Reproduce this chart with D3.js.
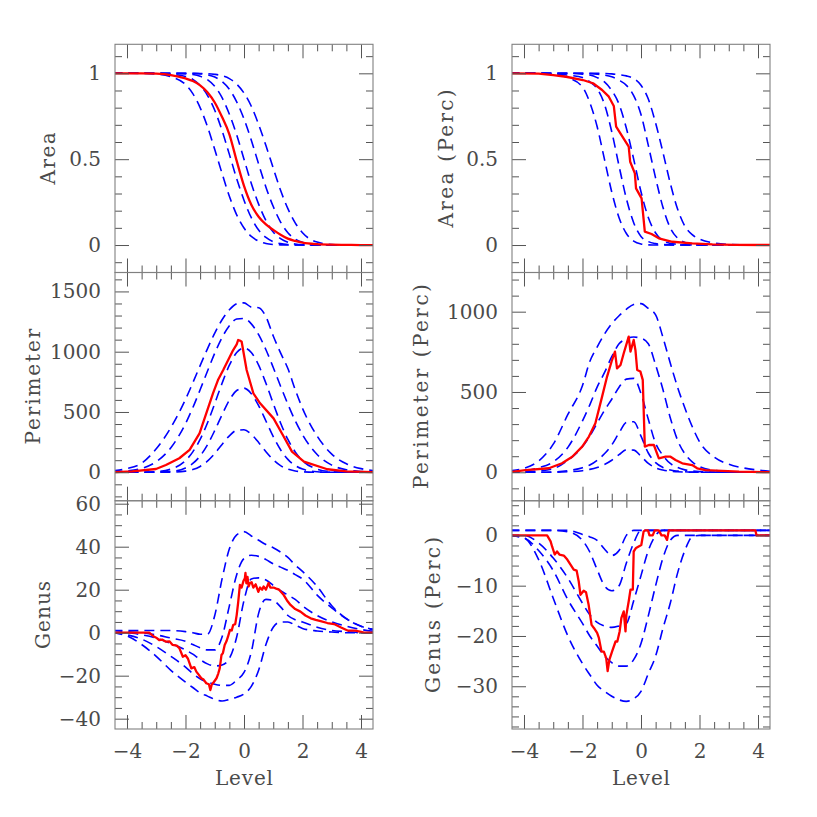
<!DOCTYPE html>
<html>
<head>
<meta charset="utf-8">
<script src="https://cdn.jsdelivr.net/npm/d3@7"></script>
<style>
  body { margin: 0; background: #fff; }
  text { font-family: 'DejaVu Serif', serif; font-size: 20px; fill: #4a4a4a; }
</style>
</head>
<body>
<script>
// level grid shared by the dashed (blue) curves
const levels = [-4.5, -4, -3.5, -3, -2.5, -2, -1.75, -1.5, -1.25, -1, -0.75, -0.5, -0.25, 0,
  0.25, 0.5, 0.75, 1, 1.25, 1.5, 1.75, 2, 2.5, 3, 3.5, 4, 4.5]

// Area
const areaBands = [
  [1, 1, 0.999, 0.996, 0.98, 0.935, 0.882, 0.8, 0.69, 0.556, 0.417, 0.284, 0.176, 0.099, 0.05, 0.023, 0.009, 0.003, 0.001, 0, 0, 0, 0, 0, 0, 0, 0],
  [1, 1, 1, 0.999, 0.995, 0.982, 0.965, 0.93, 0.872, 0.785, 0.666, 0.528, 0.386, 0.261, 0.159, 0.087, 0.044, 0.019, 0.008, 0.003, 0.001, 0, 0, 0, 0, 0, 0],
  [1, 1, 1, 1, 0.999, 0.997, 0.993, 0.983, 0.963, 0.924, 0.858, 0.762, 0.641, 0.5, 0.359, 0.238, 0.142, 0.076, 0.037, 0.016, 0.006, 0.002, 0, 0, 0, 0, 0],
  [1, 1, 1, 1, 1, 1, 0.999, 0.997, 0.991, 0.978, 0.952, 0.907, 0.834, 0.734, 0.61, 0.472, 0.337, 0.224, 0.134, 0.072, 0.035, 0.016, 0.002, 0, 0, 0, 0],
  [1, 1, 1, 1, 1, 1, 1, 0.999, 0.998, 0.994, 0.986, 0.969, 0.937, 0.885, 0.808, 0.702, 0.579, 0.448, 0.319, 0.212, 0.129, 0.071, 0.017, 0.003, 0, 0, 0]
]
const areaRed = [1, 1, 1, 0.998, 0.99, 0.97, 0.955, 0.93, 0.89, 0.83, 0.745, 0.645, 0.49, 0.345, 0.235, 0.165, 0.12, 0.088, 0.06, 0.037, 0.024, 0.014, 0.005, 0.002, 0.001, 0, 0]

// Area (Perc)
const areaPercBands = [
  [1, 1, 1, 0.995, 0.975, 0.92, 0.83, 0.69, 0.5, 0.309, 0.159, 0.067, 0.023, 0.006, 0.001, 0, 0, 0, 0, 0, 0, 0, 0, 0, 0, 0, 0],
  [1, 1, 1, 0.998, 0.99, 0.975, 0.95, 0.91, 0.82, 0.66, 0.46, 0.27, 0.13, 0.05, 0.02, 0.008, 0.003, 0.001, 0, 0, 0, 0, 0, 0, 0, 0, 0],
  [1, 1, 1, 1, 1, 0.995, 0.99, 0.975, 0.95, 0.9, 0.82, 0.68, 0.5, 0.31, 0.16, 0.07, 0.025, 0.01, 0.004, 0.001, 0, 0, 0, 0, 0, 0, 0],
  [1, 1, 1, 1, 1, 1, 0.998, 0.995, 0.99, 0.98, 0.96, 0.93, 0.87, 0.76, 0.58, 0.39, 0.22, 0.1, 0.04, 0.015, 0.006, 0.002, 0, 0, 0, 0, 0],
  [1, 1, 1, 1, 1, 1, 1, 1, 0.999, 0.997, 0.992, 0.985, 0.97, 0.93, 0.85, 0.71, 0.54, 0.36, 0.21, 0.11, 0.06, 0.035, 0.012, 0.003, 0.001, 0, 0]
]
const areaPercRed = [[-4.5, 1], [-3.5, 0.998], [-3, 0.99], [-2.56, 0.98], [-1.99, 0.961], [-1.64, 0.942], [-1.33, 0.903],
  [-1.1, 0.864], [-0.93, 0.81], [-0.85, 0.69], [-0.42, 0.573], [-0.37, 0.485], [-0.21, 0.417], [-0.17, 0.33],
  [0.02, 0.272], [0.13, 0.078], [0.36, 0.064], [0.61, 0.039], [1.07, 0.019], [1.75, 0.01], [2.44, 0.004], [3.2, 0.001], [4.5, 0]]

// Perimeter
const perimBands = [
  [12, 30, 75, 195, 371, 605, 742, 884, 1024, 1154, 1265, 1348, 1397, 1405, 1370, 1365, 1290, 1130, 990, 860, 686, 530, 300, 150, 70, 30, 12],
  [3, 10, 32, 87, 203, 403, 536, 684, 838, 988, 1118, 1216, 1271, 1276, 1231, 1141, 1016, 869, 714, 564, 428, 312, 147, 59, 20, 6, 2],
  [0, 1, 2, 5, 26, 96, 169, 272, 409, 570, 738, 888, 993, 1030, 993, 888, 738, 570, 409, 272, 169, 96, 26, 5, 1, 0, 0],
  [0, 0, 0, 1, 6, 36, 73, 135, 227, 346, 477, 598, 678, 698, 652, 553, 425, 296, 187, 107, 56, 26, 4, 0, 0, 0, 0],
  [0, 0, 0, 0, 1, 9, 22, 48, 92, 155, 231, 302, 348, 352, 314, 247, 170, 104, 55, 26, 11, 4, 0, 0, 0, 0, 0]
]
const perimRed = [[-4.5, 0], [-3.82, 8], [-3.01, 27], [-2.67, 60], [-2.21, 116], [-1.86, 185], [-1.52, 323], [-1.29, 489],
  [-1.06, 655], [-0.89, 765], [-0.71, 848], [-0.54, 931], [-0.37, 1014], [-0.25, 1060], [-0.2, 1097], [-0.12, 1090],
  [-0.08, 1083], [0.09, 848], [0.32, 655], [0.55, 572], [1.01, 447], [1.36, 295], [1.64, 171], [2.05, 88], [2.85, 25], [3.5, 8], [4.5, 0]]

// Perimeter (Perc)
const perimPercBands = [
  [10, 25, 70, 175, 360, 540, 690, 780, 860, 925, 975, 1015, 1045, 1050, 1020, 980, 840, 680, 530, 400, 285, 190, 95, 50, 27, 14, 5],
  [3, 10, 28, 65, 155, 320, 420, 530, 620, 720, 800, 830, 842, 835, 800, 668, 515, 340, 200, 115, 65, 35, 12, 4, 2, 1, 0],
  [0, 2, 8, 22, 75, 160, 225, 305, 385, 455, 530, 580, 585, 490, 330, 180, 105, 55, 30, 15, 8, 4, 1, 0, 0, 0, 0],
  [0, 0, 0, 2, 10, 28, 45, 75, 115, 170, 245, 310, 315, 225, 120, 60, 30, 14, 7, 3, 1, 0, 0, 0, 0, 0, 0],
  [0, 0, 0, 0, 3, 10, 18, 30, 48, 75, 110, 140, 138, 100, 55, 28, 14, 6, 3, 1, 0, 0, 0, 0, 0, 0, 0]
]
const perimPercRed = [[-4.5, 0], [-3.95, 14], [-3.15, 25], [-2.7, 56], [-2.35, 97], [-2.01, 160], [-1.78, 222], [-1.56, 305],
  [-1.33, 471], [-1.16, 596], [-0.99, 699], [-0.89, 751], [-0.82, 647], [-0.7, 668], [-0.59, 741], [-0.42, 845],
  [-0.36, 751], [-0.25, 824], [-0.19, 760], [-0.13, 637], [-0.02, 627], [0.06, 575], [0.13, 160], [0.27, 170],
  [0.44, 170], [0.61, 87], [0.84, 97], [1.01, 97], [1.18, 77], [1.41, 56], [1.75, 45], [1.92, 25], [2.2, 14], [3.35, 4], [4.5, 0]]

// Genus
const genusBands = [
  [1, 1, 1, 1, 1, 0.5, 0, -0.7, -0.7, 8, 25, 39, 45.5, 47, 45, 43, 41, 39.5, 37.5, 35, 31.5, 28.5, 21.5, 12.5, 6.5, 3, 1.5],
  [1, 0.5, 0, -1, -2.5, -4, -5.5, -7, -8, -8, -2, 12.5, 27, 34.5, 36, 35.5, 34, 32, 30.5, 29, 27, 25, 17.5, 11.5, 6.5, 3, 1],
  [0, 0, -1, -2.5, -5, -8, -10, -12.5, -14.5, -15.5, -15, -12, -2, 15, 25, 25.5, 24.5, 22, 19.5, 17.5, 15.5, 12.5, 8, 5, 3, 1.5, 0.5],
  [0, -1, -3, -6.5, -11, -16, -19, -21.5, -23, -24, -24.5, -24.5, -22, -18.5, -9, 9, 15.5, 15, 12, 8, 6, 5, 2.5, 1, 0.5, 0, 0],
  [0, -1.5, -5.5, -11, -17.5, -23, -25.5, -28, -29.5, -31, -31.8, -31, -30, -28.5, -25, -17.5, -5.5, 2.5, 5, 5, 3.5, 2, 0.8, 0.3, 0, 0, 0]
]
const genusRed = [[-4.5, 0], [-3.3, 0], [-3.24, 0], [-3.07, -1.9], [-2.98, -2.5], [-2.9, -3.4], [-2.8, -3.2], [-2.67, -4.2],
  [-2.55, -4], [-2.44, -5.7], [-2.3, -6], [-2.21, -7.2], [-2.09, -11.2], [-2.0, -10.5], [-1.92, -12], [-1.8, -16.6],
  [-1.7, -16], [-1.63, -18.1], [-1.55, -19.5], [-1.46, -21.2], [-1.38, -21.8], [-1.29, -23.5], [-1.2, -24], [-1.15, -26.7],
  [-1.1, -24], [-1.06, -23.5], [-0.94, -21.2], [-0.88, -19], [-0.83, -16.6], [-0.77, -10.4], [-0.72, -9.5], [-0.66, -5.7],
  [-0.6, -4], [-0.55, -2], [-0.48, 1.3], [-0.42, 1], [-0.37, 3.6], [-0.3, 4], [-0.25, 8.2], [-0.2, 14], [-0.14, 22.2],
  [-0.08, 21], [-0.02, 24], [0.03, 25.3], [0.05, 27.8], [0.08, 23], [0.12, 26], [0.16, 21.5], [0.2, 23], [0.26, 23.5],
  [0.32, 21], [0.4, 22.5], [0.49, 19], [0.55, 21], [0.62, 20], [0.67, 21.5], [0.75, 20], [0.84, 23.2], [0.9, 21],
  [1.01, 21], [1.1, 20.5], [1.2, 20], [1.36, 17.5], [1.47, 15], [1.59, 12.9], [1.75, 11], [1.93, 9.8], [2.1, 8],
  [2.28, 6.7], [2.45, 6], [2.62, 5.4], [2.85, 4.5], [3.08, 4], [3.3, 2.5], [3.54, 1], [3.8, 1], [4.0, 0.4], [4.1, 0], [4.5, 0]]

// Genus (Perc)
const genusPercBands = [
  [1, 1, 1, 1, 1, 0.2, -0.3, -1, -2.7, -4, -3, 0, 1, 1, 1, 1, 1, 1, 1, 1, 1, 1, 1, 1, 1, 1, 1],
  [1, 1, 1, 1, 0.7, -1, -3.3, -6.8, -10, -11, -10, -5.5, -1.5, 1, 1, 1, 1, 1, 1, 1, 1, 1, 1, 1, 1, 1, 1],
  [0, 0, -1.5, -4.5, -8.5, -13.5, -15.8, -17.3, -18, -18.3, -18, -17.5, -13, -8, -3, 0, 1, 1, 1, 1, 1, 1, 1, 1, 1, 1, 1],
  [0, -0.5, -3, -7, -12.8, -17.5, -20, -22, -24, -25.3, -26, -26, -24.7, -21.5, -16, -10, -4.5, -1, 0, 0, 0, 0, 0, 0, 0, 0, 0],
  [0, -0.5, -4.8, -12.5, -20, -25.5, -27.7, -29.8, -31, -32, -32.7, -33, -32.5, -31, -27.5, -24, -18.5, -13.5, -7.5, -3, -0.3, 0, 0, 0, 0, 0, 0]
]
const genusPercRed = [[-4.5, 0], [-3.21, 0], [-3.09, -1.2], [-3.04, -2.2], [-2.95, -3.8], [-2.87, -3.2], [-2.79, -3.8],
  [-2.64, -4], [-2.52, -4.8], [-2.41, -5.8], [-2.3, -6.8], [-2.2, -7], [-2.13, -9.1], [-2.07, -11.8], [-1.96, -11],
  [-1.88, -11.3], [-1.79, -13.8], [-1.69, -17.8], [-1.61, -18.4], [-1.5, -19.4], [-1.44, -20.4], [-1.35, -23.1],
  [-1.27, -23.1], [-1.19, -24.4], [-1.14, -27], [-1.08, -24.7], [-0.99, -23.1], [-0.87, -21.1], [-0.81, -21.1],
  [-0.73, -19.1], [-0.67, -16.4], [-0.59, -15.1], [-0.53, -19.1], [-0.5, -15.8], [-0.42, -13.1], [-0.36, -10.8],
  [-0.28, -10.8], [-0.25, -3.2], [-0.17, -2.5], [-0.08, -2.2], [0.01, -1.9], [0.09, 0.8], [0.15, 1], [0.24, 1],
  [0.29, 0], [0.4, 0], [0.47, 1], [0.61, 1], [0.7, 0], [0.81, 0], [0.89, -0.9], [0.95, 1], [3.91, 1], [3.95, 0], [4.5, 0]]

const xMajor = [-4, -2, 0, 2, 4]

// layout
const svg = d3.select('body').append('svg').attr('width', 817).attr('height', 817)
const colLeft = [115, 512]
const rowTop = [44.3, 272.5, 500.8]
const panelW = 258, panelH = 228.2
const frameColor = '#808080', tickColor = '#555'
const majorLen = 14, minorLen = 7

const steps = (a, b, s) => d3.range(Math.round((b - a) / s) + 1).map(i => +(a + i * s).toFixed(4))

const panels = [
  { col: 0, row: 0, yDomain: [-0.16, 1.169], major: [0, 0.5, 1], minor: steps(-0.1, 1.1, 0.1),
    label: 'Area', labelLen: 52, labelX: 55, bands: areaBands, red: levels.map((l, i) => [l, areaRed[i]]), smoothRed: true },
  { col: 1, row: 0, yDomain: [-0.16, 1.169], major: [0, 0.5, 1], minor: steps(-0.1, 1.1, 0.1),
    label: 'Area (Perc)', labelLen: 138, labelX: 453, bands: areaPercBands, red: areaPercRed },
  { col: 0, row: 1, yDomain: [-236, 1657], major: [0, 500, 1000, 1500], minor: steps(-200, 1600, 100),
    label: 'Perimeter', labelLen: 116, labelX: 40, bands: perimBands, red: perimRed },
  { col: 1, row: 1, yDomain: [-177, 1244], major: [0, 500, 1000], minor: steps(-100, 1200, 100),
    label: 'Perimeter (Perc)', labelLen: 205, labelX: 428, bands: perimPercBands, red: perimPercRed },
  { col: 0, row: 2, yDomain: [-44.8, 61.35], major: [-40, -20, 0, 20, 40, 60], minor: steps(-40, 60, 5),
    label: 'Genus', labelLen: 68, labelX: 50, bands: genusBands, red: genusRed },
  { col: 1, row: 2, yDomain: [-38.5, 6.88], major: [-30, -20, -10, 0], minor: steps(-38, 6, 2),
    label: 'Genus (Perc)', labelLen: 156, labelX: 440, bands: genusPercBands, red: genusPercRed }
]

const x = d3.scaleLinear().domain([-4.41, 4.41]).range([0, panelW])
const xMinor = steps(-4, 4, 0.5).filter(v => !xMajor.includes(v))
const fmt = d3.format('~g')

function tickSet(g, axis, values, len, labels, pad) {
  axis.tickValues(values).tickSize(-len).tickSizeOuter(0)
  if (labels) axis.tickPadding(pad).tickFormat(fmt)
  else axis.tickFormat('')
  g.call(axis)
  g.select('.domain').remove()
  g.selectAll('.tick line').attr('stroke', tickColor)
  g.attr('font-family', null).attr('font-size', null)
}

panels.forEach((p, i) => {
  const left = colLeft[p.col], top = rowTop[p.row]
  const g = svg.append('g').attr('transform', `translate(${left},${top})`)
  const y = d3.scaleLinear().domain(p.yDomain).range([panelH, 0])
  const minors = p.minor.filter(v => !p.major.includes(v))

  g.append('clipPath').attr('id', 'clip' + i)
    .append('rect').attr('width', panelW).attr('height', panelH)
  const plot = g.append('g').attr('clip-path', `url(#clip${i})`)

  const smooth = d3.line().x(d => x(d[0])).y(d => y(d[1])).curve(d3.curveMonotoneX)
  const straight = d3.line().x(d => x(d[0])).y(d => y(d[1]))

  p.bands.forEach(band => {
    plot.append('path')
      .datum(levels.map((l, j) => [l, band[j]]))
      .attr('d', smooth)
      .attr('fill', 'none')
      .attr('stroke', '#0000ff')
      .attr('stroke-width', 1.6)
      .attr('stroke-dasharray', '10,6')
  })

  plot.append('path')
    .datum(p.red)
    .attr('d', p.smoothRed ? smooth : straight)
    .attr('fill', 'none')
    .attr('stroke', '#ff0000')
    .attr('stroke-width', 2.3)
    .attr('stroke-linejoin', 'round')

  // ticks on all four sides
  const bottom = p.row === 2
  tickSet(g.append('g').attr('transform', `translate(0,${panelH})`), d3.axisBottom(x), xMajor, majorLen, bottom, 15)
  tickSet(g.append('g').attr('transform', `translate(0,${panelH})`), d3.axisBottom(x), xMinor, minorLen, false)
  tickSet(g.append('g'), d3.axisTop(x), xMajor, majorLen, false)
  tickSet(g.append('g'), d3.axisTop(x), xMinor, minorLen, false)
  tickSet(g.append('g'), d3.axisLeft(y), p.major, majorLen, true, 14)
  tickSet(g.append('g'), d3.axisLeft(y), minors, minorLen, false)
  tickSet(g.append('g').attr('transform', `translate(${panelW},0)`), d3.axisRight(y), p.major, majorLen, false)
  tickSet(g.append('g').attr('transform', `translate(${panelW},0)`), d3.axisRight(y), minors, minorLen, false)

  g.append('rect')
    .attr('width', panelW).attr('height', panelH)
    .attr('fill', 'none')
    .attr('stroke', frameColor)
    .attr('stroke-width', 1.1)

  svg.append('text')
    .attr('transform', `translate(${p.labelX},${top + panelH / 2}) rotate(-90)`)
    .attr('text-anchor', 'middle')
    .attr('textLength', p.labelLen)
    .attr('lengthAdjust', 'spacing')
    .text(p.label)

  if (bottom) {
    svg.append('text')
      .attr('x', left + panelW / 2)
      .attr('y', 785)
      .attr('text-anchor', 'middle')
      .attr('textLength', 58)
      .attr('lengthAdjust', 'spacing')
      .text('Level')
  }
})
</script>
</body>
</html>
